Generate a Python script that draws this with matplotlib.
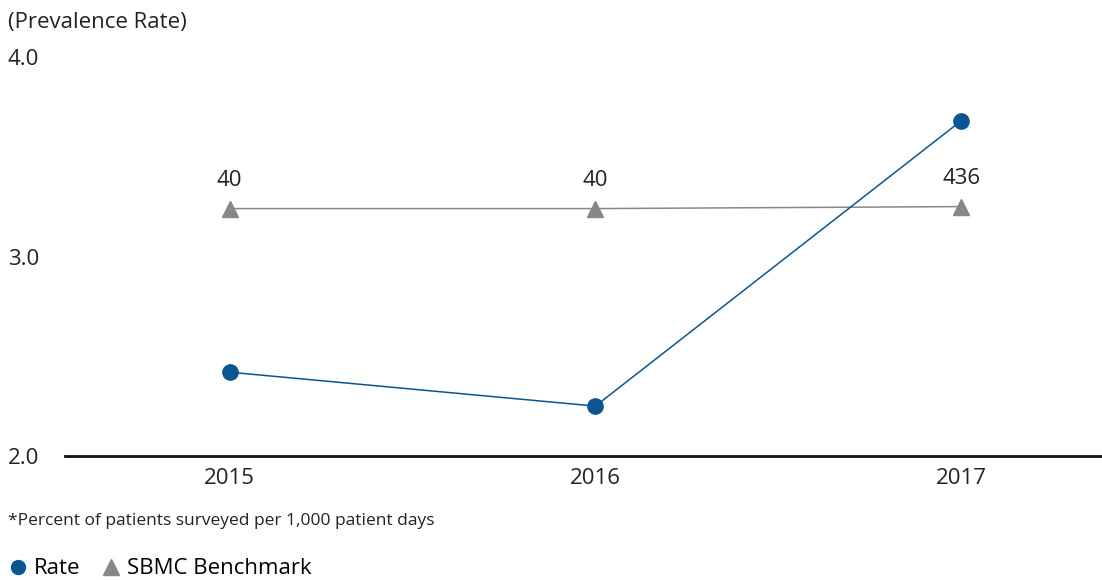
import matplotlib.pyplot as plt
from matplotlib.lines import Line2D

plt.rcParams['font.family'] = ['Open Sans', 'DejaVu Sans']

# Data
years = ['2015', '2016', '2017']
rate = [2.42, 2.25, 3.68]
benchmark = [3.24, 3.24, 3.25]
benchmark_labels = ['40', '40', '436']

blue = '#0b5592'
grey = '#87878b'
txt = '#222222'

fig = plt.figure(figsize=(11.02, 5.8), dpi=100)
ax = fig.add_axes([0.059, 0.2138, 0.941, 0.688])

x = range(len(years))
ax.plot(x, rate, color=blue, lw=1.1, marker='o', ms=11, zorder=3)
ax.plot(x, benchmark, color=grey, lw=1.1, marker='^', ms=11, zorder=2)
for xi, yi, lab in zip(x, benchmark, benchmark_labels):
    ax.annotate(lab, (xi, yi), xytext=(0, 13), textcoords='offset points',
                ha='center', va='bottom', fontsize=16, color=txt)

ax.set_xlim(-0.45, 2.385)
ax.set_ylim(2.0, 4.0)
ax.set_xticks(list(x))
ax.set_xticklabels(years, fontsize=16, color=txt)
ax.set_yticks([2.0, 3.0, 4.0])
ax.set_yticklabels([])
ax.tick_params(axis='both', length=0, pad=9)
for s in ['left', 'right', 'top']:
    ax.spines[s].set_visible(False)
ax.spines['bottom'].set_linewidth(2)
ax.spines['bottom'].set_color('#111111')

# y tick labels placed at the far left
for v in [2.0, 3.0, 4.0]:
    yf = 0.2138 + (v - 2.0) / 2.0 * 0.688 - 0.005
    fig.text(0.007, yf, f'{v:.1f}', fontsize=16, va='center', ha='left', color=txt)

fig.text(0.007, 0.962, '(Prevalence Rate)', fontsize=16, va='center', ha='left', color=txt)
fig.text(0.007, 0.102, '*Percent of patients surveyed per 1,000 patient days',
         fontsize=12.5, va='center', ha='left', color=txt)

handles = [
    Line2D([], [], color=blue, marker='o', ls='', ms=10, label='Rate'),
    Line2D([], [], color=grey, marker='^', ls='', ms=11, label='SBMC Benchmark'),
]
fig.legend(handles=handles, loc='lower left', bbox_to_anchor=(-0.006, -0.022), ncol=2,
           frameon=False, fontsize=16, handletextpad=0.2, columnspacing=0.9,
           handlelength=1.0, borderaxespad=0.2)

plt.savefig('out.png', dpi=100)
